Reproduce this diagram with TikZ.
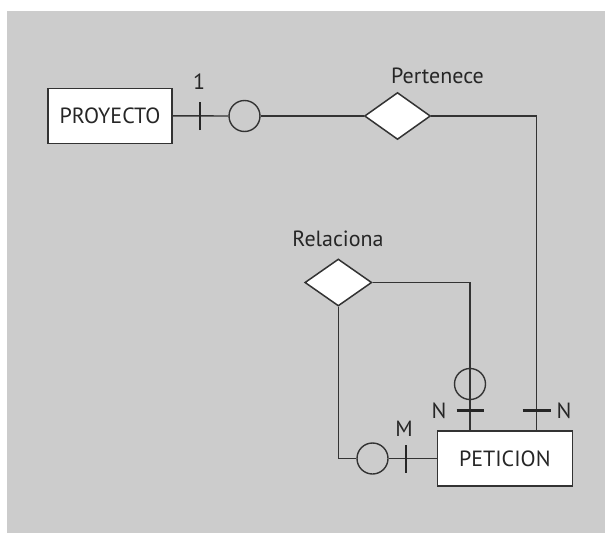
\documentclass[tikz,border=0pt]{standalone}
\usepackage{fontspec}
\setmainfont{PT Sans}
\usetikzlibrary{shapes.geometric}
\definecolor{bg}{HTML}{CCCCCC}
\definecolor{ln}{HTML}{333333}
\tikzset{
  ent/.style={draw=ln, line width=1.5pt, fill=white, rectangle, inner sep=0pt, text=black!85, font=\fontsize{22}{24}\selectfont},
  rel/.style={draw=ln, line width=1.5pt, fill=white, diamond, inner sep=0pt},
  opt/.style={draw=ln, line width=1.4pt, circle, inner sep=0pt, minimum size=31pt},
  conn/.style={draw=ln, line width=1.4pt},
  tick/.style={draw=black!85, line width=2.5pt},
  lbl/.style={font=\fontsize{22}{24}\selectfont, text=black!85, inner sep=0pt}
}
\begin{document}
\begin{tikzpicture}[x=1pt,y=-1pt]
\useasboundingbox (0,0) rectangle (605,533);
\fill[bg] (7,11) rectangle (605,533);
% nodes
\node[ent, minimum width=124pt, minimum height=55pt] (proy) at (110,115.8) {PROYECTO};
\node[ent, minimum width=135pt, minimum height=55pt] (pet) at (504.8,458.5) {PETICION};
\node[rel, minimum width=66pt, minimum height=47pt] (pert) at (397.5,116) {};
\node[rel, minimum width=67pt, minimum height=47pt] (relc) at (338.3,282.5) {};
\node[opt, fill=bg] (c1) at (244.5,116) {};
\node[opt] (c2) at (470,384) {};
\node[opt, fill=bg] (c3) at (372.5,458.5) {};
% corner coordinates
\coordinate (r1) at (536.5,116);
\coordinate (r2) at (470,282.5);
\coordinate (r3) at (338.3,458.5);
% connectors
\draw[conn] (proy.east) -- (c1.west);
\draw[conn] (c1.east) -- (pert.west);
\draw[conn] (pert.east) -- (r1) -- (r1 |- pet.north);
\draw[conn] (relc.east) -- (r2) -- (r2 |- pet.north);
\draw[conn] (relc.south) -- (r3) -- (c3.west);
\draw[conn] (c3.east) -- (pet.west);
% cardinality ticks
\coordinate (t1) at (200,116);
\coordinate (t2) at (470,410.7);
\coordinate (t3) at (536.5,410.7);
\coordinate (t4) at (406,458.5);
\draw[tick] ([yshift=-14pt]t1) -- ([yshift=14pt]t1);
\draw[tick] ([xshift=-13.5pt]t2) -- ([xshift=13.5pt]t2);
\draw[tick] ([xshift=-14pt]t3) -- ([xshift=14pt]t3);
\draw[tick] ([yshift=-14pt]t4) -- ([yshift=14pt]t4);
% labels
\node[lbl] (l1) at (199,82) {1};
\node[lbl] (lpert) at (437.5,76) {Pertenece};
\node[lbl] (lrel) at (338,239) {Relaciona};
\node[lbl] (ln1) at (439,411) {N};
\node[lbl] (ln2) at (564,411) {N};
\node[lbl] (lm) at (404,429) {M};
\end{tikzpicture}
\end{document}
